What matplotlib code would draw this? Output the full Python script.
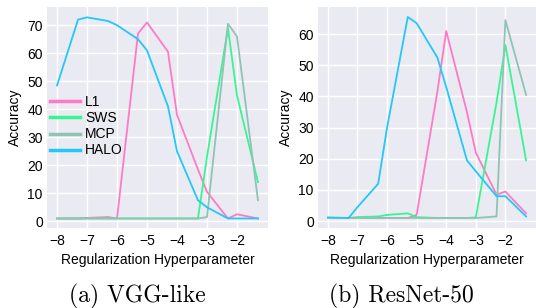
import matplotlib
matplotlib.use("Agg")
import matplotlib.pyplot as plt
from matplotlib.ticker import MultipleLocator

x = [-8, -7.3, -7, -6.3, -6, -5.3, -5, -4.3, -4, -3.3, -3, -2.3, -2, -1.3]
methods = ["L1", "SWS", "MCP", "HALO"]
colors = {"L1": "#ff7ac6", "SWS": "#38f594", "MCP": "#8fc4b5", "HALO": "#22c8f8"}

vgg_l1 = [1, 1, 1.2, 1.5, 1, 67, 71, 60.5, 38, 18.5, 10.5, 1, 2.5, 1]
vgg_sws = [1, 1, 1, 1, 1, 1, 1, 1, 1, 1, 23, 69, 45, 14]
vgg_mcp = [1, 1, 1, 1, 1, 1, 1, 1, 1, 1, 1.5, 70.5, 66, 7.5]
vgg_halo = [48.5, 72, 72.8, 71.5, 70, 65, 61, 41, 25, 7.5, 5, 1, 1, 1]

res_l1 = [1, 1, 1, 1, 1, 1, 2, 41.5, 61, 35, 22, 8.5, 9.5, 2.5]
res_sws = [1, 1, 1.3, 1.5, 2, 2.5, 1.3, 1, 1, 1, 1.2, 38, 56.5, 19.5]
res_mcp = [1, 1, 1, 1, 1, 1, 1, 1, 1, 1, 1, 1.5, 64.5, 40.5]
res_halo = [1.2, 1, 4.5, 12, 30, 65.5, 63.5, 52.5, 43, 19.5, 16, 8, 8, 1.5]

xticks = [-8, -7, -6, -5, -4, -3, -2]
captions = ["(a) VGG-like", "(b) ResNet-50"]

plt.rcParams['font.family'] = ['Liberation Sans', 'DejaVu Sans']

fig = plt.figure(figsize=(5.36, 3.08), dpi=100)
ax1 = fig.add_axes([47/536, 1 - 228/308, 221/536, 221/308])
ax2 = fig.add_axes([318/536, 1 - 228/308, 218/536, 221/308])

data = [
    {"L1": vgg_l1, "SWS": vgg_sws, "MCP": vgg_mcp, "HALO": vgg_halo},
    {"L1": res_l1, "SWS": res_sws, "MCP": res_mcp, "HALO": res_halo},
]

for ax, d in zip([ax1, ax2], data):
    ax.set_facecolor("#eaeaf2")
    for s in ax.spines.values():
        s.set_visible(False)
    ax.grid(True, color="white", linewidth=1.0)
    ax.set_axisbelow(True)
    for m in methods:
        ax.plot(x, d[m], color=colors[m], linewidth=1.3, label=m)
    ax.set_xticks(xticks)
    ax.yaxis.set_major_locator(MultipleLocator(10))
    ax.tick_params(length=0, labelsize=10, pad=4)
    ax.tick_params(axis="y", pad=3)
    ax.set_xlabel("Regularization Hyperparameter", fontsize=10, labelpad=4)
    ax.set_ylabel("Accuracy", fontsize=10, labelpad=4)

ax2.set_ylim(-2.2, 68.7)
ax1.set_ylim(-2.4, 76.5)

fig.text(137.5/536, 1 - 302/308, captions[0], ha="center", va="baseline",
         fontsize=17, family="cmr10")
fig.text(401/536, 1 - 302/308, captions[1], ha="center", va="baseline",
         fontsize=17, family="cmr10")

leg = ax1.legend(loc="center left", bbox_to_anchor=(0.0, 0.46), frameon=False,
                 fontsize=10, handlelength=2.2, handletextpad=0.35, labelspacing=0.15,
                 borderaxespad=0.0, borderpad=0.2)
for l in leg.get_lines():
    l.set_linewidth(2.5)

fig.savefig("out.png", dpi=100)
